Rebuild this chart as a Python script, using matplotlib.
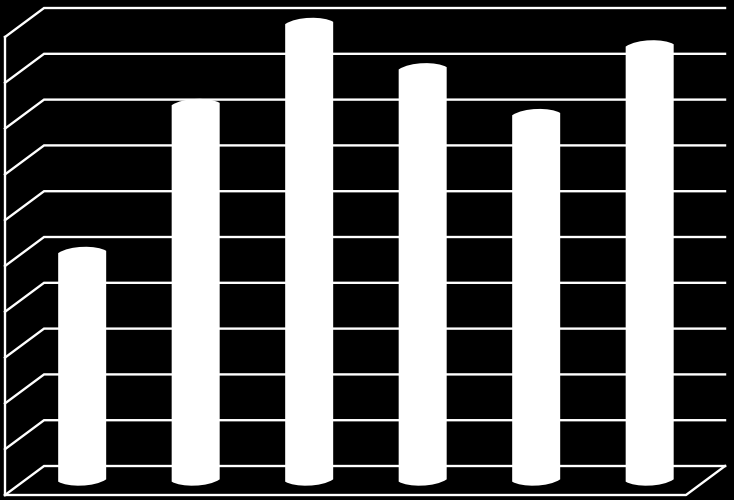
import matplotlib
matplotlib.use('Agg')
import matplotlib.pyplot as plt
from matplotlib.patches import PathPatch
from matplotlib.path import Path

# Values, axis runs 0-10 with no labels
categories = [1, 2, 3, 4, 5, 6]
values = [4.99, 8.22, 9.99, 9.0, 8.0, 9.5]
grid_levels = [0, 1, 2, 3, 4, 5, 6, 7, 8, 9, 10]

# Oblique offset of the back wall, in data units
depth_x = 0.344
depth_y = 0.633
bar_w = 0.423
cap_bulge = 0.15
cap_tilt = 0.025
line_w = 1.7

fig = plt.figure(figsize=(7.34, 5), dpi=100, facecolor='black')
ax = fig.add_axes([5 / 734, 5 / 500, 681 / 734, 458 / 500])
ax.set_xlim(0, len(categories))
ax.set_ylim(0, grid_levels[-1])
ax.axis('off')

# Walls and floor
for level in grid_levels:
    ax.plot([0, depth_x, len(categories) + depth_x],
            [level, level + depth_y, level + depth_y],
            color='white', lw=line_w, clip_on=False, solid_joinstyle='miter', zorder=1)
ax.plot([0, 0], [0, grid_levels[-1]], color='white', lw=line_w, clip_on=False, zorder=1)
ax.plot([0, len(categories), len(categories) + depth_x],
        [0, 0, depth_y],
        color='white', lw=line_w, clip_on=False, zorder=1)

# Cylinders sit half way back on the floor, caps are shallow tilted arcs
for i, val in enumerate(values):
    cx = i + 0.5 + depth_x / 2 + 0.008
    left = cx - bar_w / 2
    right = cx + bar_w / 2
    base = depth_y / 2
    top = base + val
    verts = [(left, base - cap_tilt),
             (left + bar_w * 0.2, base - cap_bulge),
             (right - bar_w * 0.25, base - cap_bulge),
             (right, base + cap_tilt),
             (right, top + cap_tilt),
             (right - bar_w * 0.2, top + cap_bulge),
             (left + bar_w * 0.25, top + cap_bulge),
             (left, top - cap_tilt),
             (left, base - cap_tilt)]
    codes = [Path.MOVETO, Path.CURVE4, Path.CURVE4, Path.CURVE4, Path.LINETO,
             Path.CURVE4, Path.CURVE4, Path.CURVE4, Path.CLOSEPOLY]
    ax.add_patch(PathPatch(Path(verts, codes), fc='white', ec='none',
                           clip_on=False, zorder=2))

fig.savefig('out.png', dpi=100, facecolor='black')
